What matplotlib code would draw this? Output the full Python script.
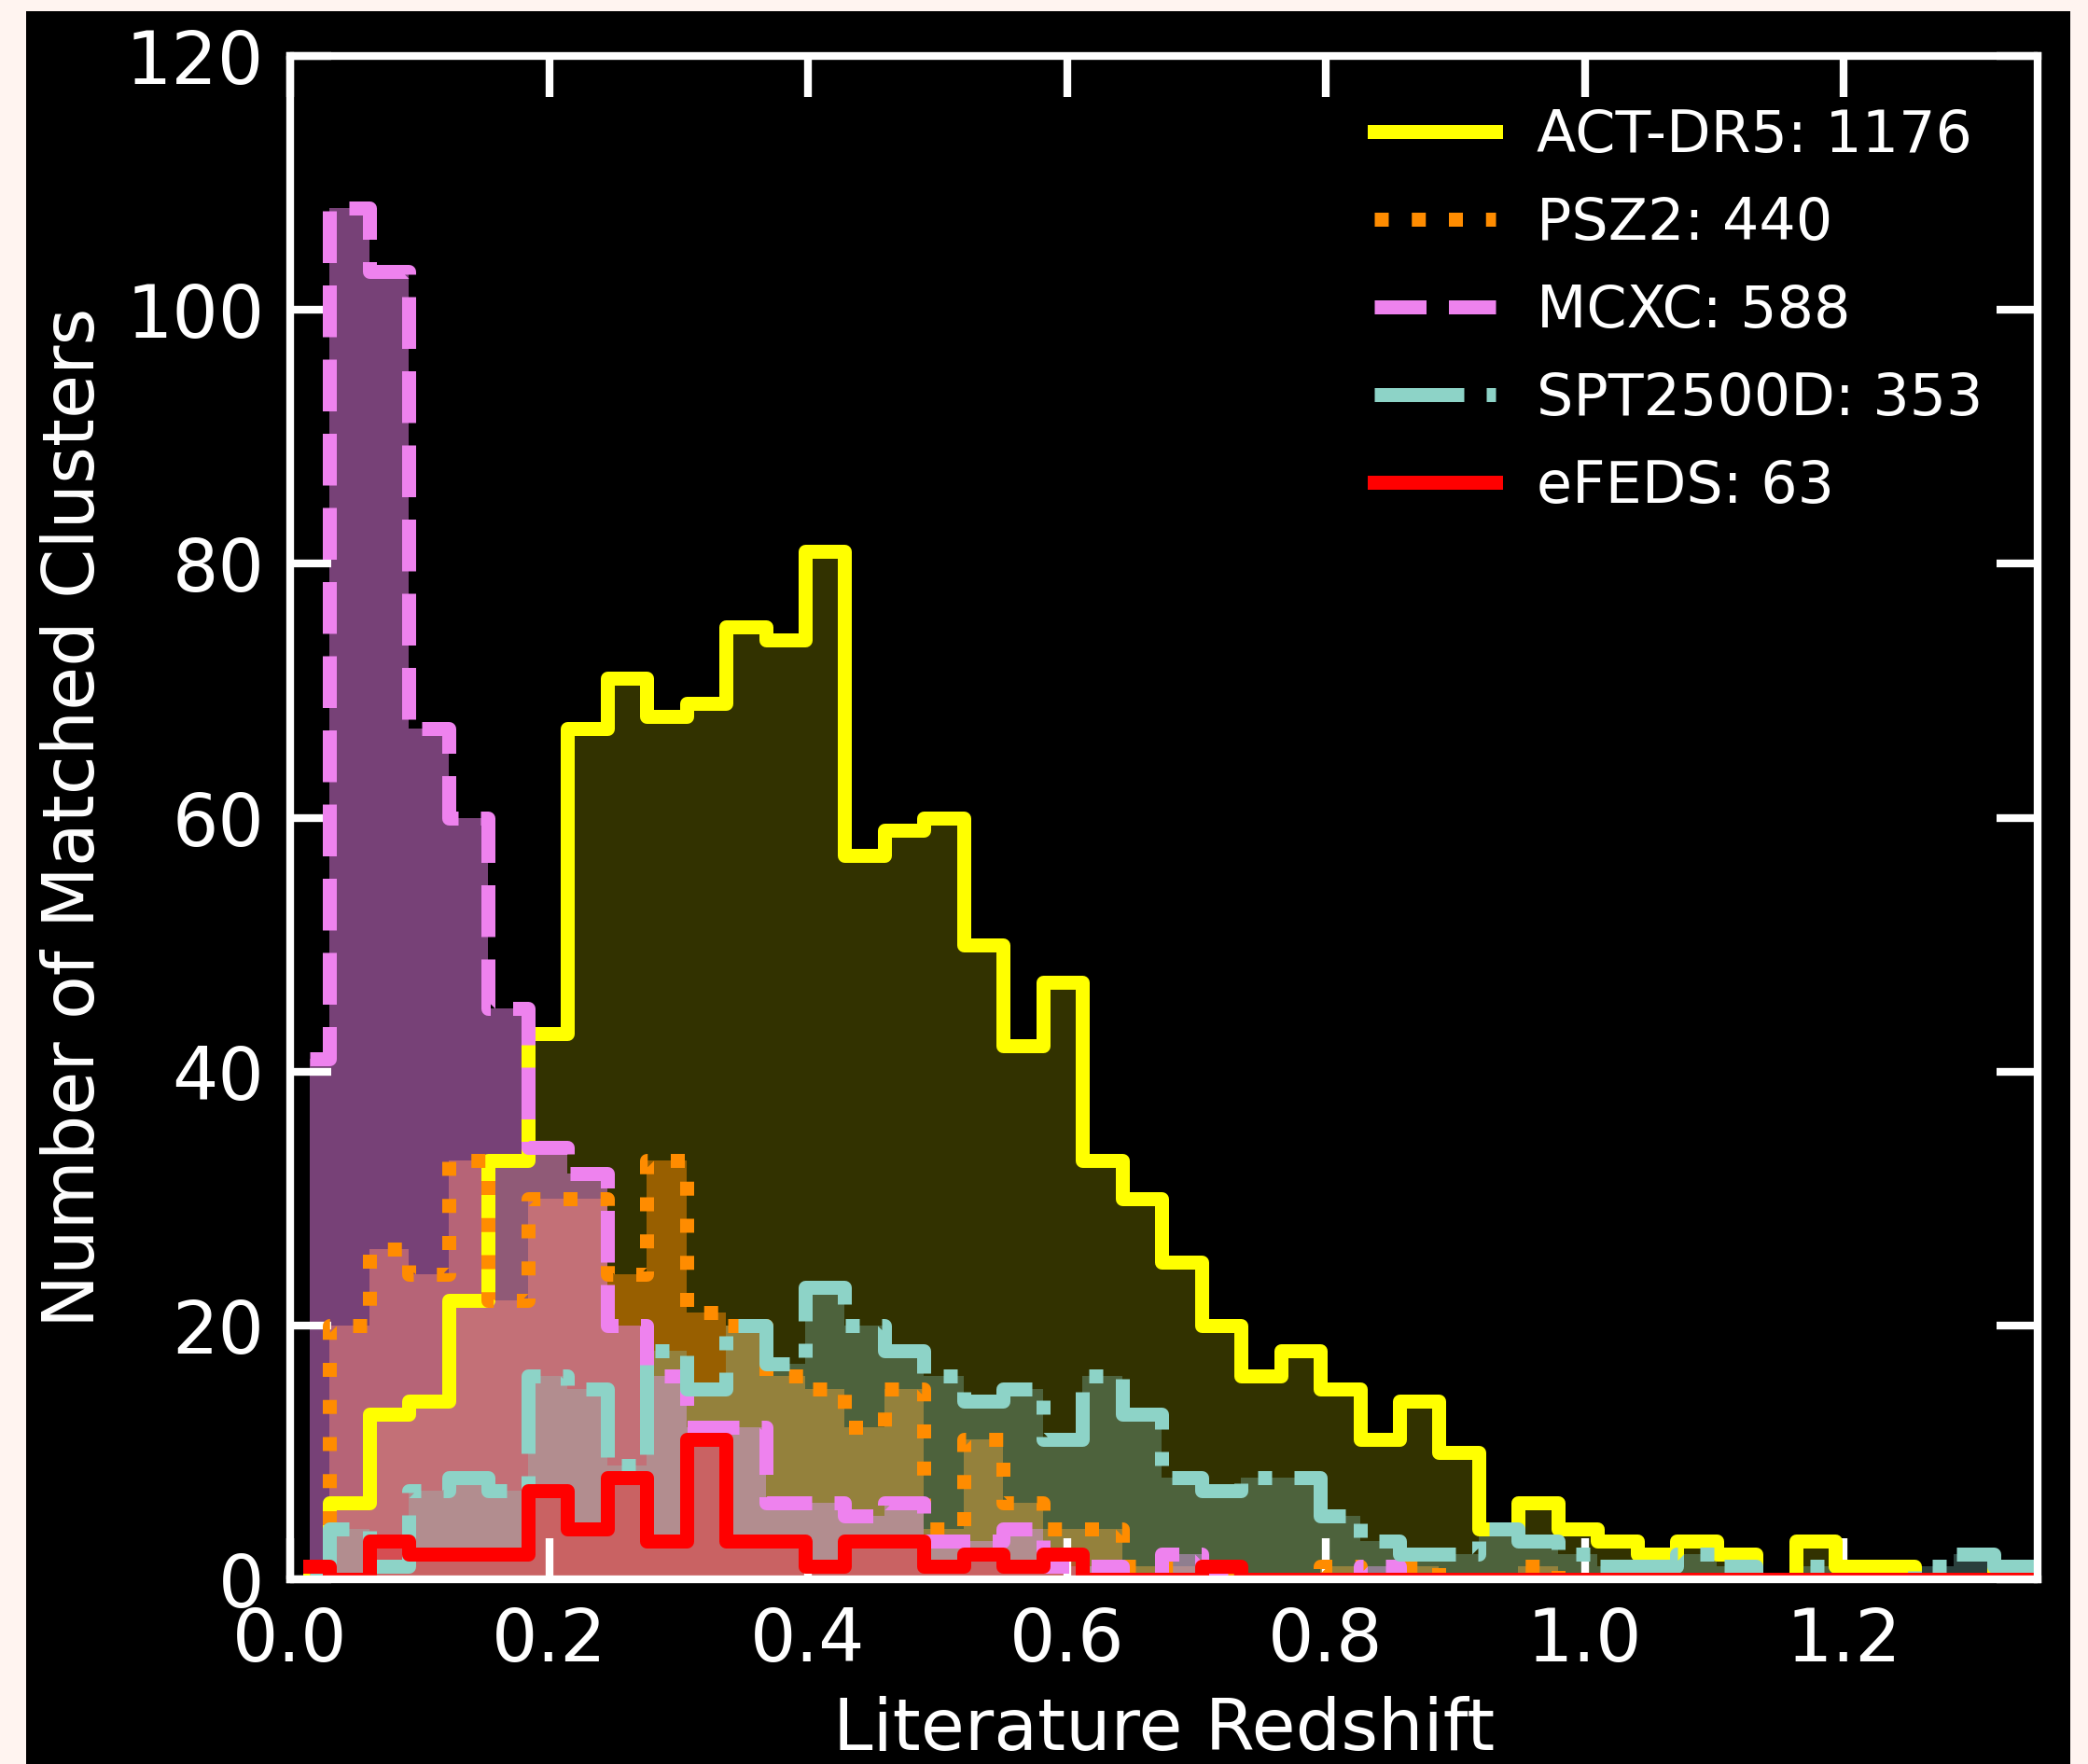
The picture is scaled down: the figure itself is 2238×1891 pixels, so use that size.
import numpy as np
import matplotlib
matplotlib.use("Agg")
import matplotlib.pyplot as plt
from matplotlib.patches import Rectangle

# ---------------- data (counts per redshift bin, bin width 0.0306) ----------------
bin_width = 0.0306
n_bins = 45
bin_edges = np.arange(n_bins + 1) * bin_width
bin_centers = bin_edges[:-1] + bin_width / 2

act_dr5 = [0, 6, 13, 14, 22, 33, 43, 67, 71, 68, 69, 75, 74, 81, 57, 59, 60, 50, 42, 47,
           33, 30, 25, 20, 16, 18, 15, 11, 14, 10, 4, 6, 4, 3, 2, 3, 2, 0, 3, 1,
           1, 0, 0, 1, 1]
psz2 = [0, 20, 26, 24, 33, 22, 30, 30, 24, 33, 21, 20, 16, 15, 12, 15, 4, 11, 6, 4,
        4, 1, 1, 0, 0, 0, 1, 0, 1, 0, 0, 1, 0, 0, 0, 0, 0, 0, 0, 0,
        0, 0, 0, 0, 0]
mcxc = [41, 108, 103, 67, 60, 45, 34, 32, 20, 16, 12, 12, 6, 6, 5, 6, 3, 3, 4, 1,
        1, 0, 2, 0, 0, 0, 0, 1, 0, 0, 0, 0, 0, 0, 0, 0, 0, 0, 0, 0,
        0, 0, 0, 0, 0]
spt2500d = [0, 4, 1, 7, 8, 7, 16, 15, 9, 18, 15, 20, 17, 23, 20, 18, 16, 14, 15, 11,
            16, 13, 8, 7, 8, 8, 5, 3, 2, 2, 4, 3, 2, 1, 1, 2, 1, 0, 1, 0,
            0, 1, 2, 1, 1]
efeds = [1, 0, 3, 2, 2, 2, 7, 4, 8, 3, 11, 3, 3, 1, 3, 3, 1, 2, 1, 2,
         0, 0, 0, 1, 0, 0, 0, 0, 0, 0, 0, 0, 0, 0, 0, 0, 0, 0, 0, 0,
         0, 0, 0, 0, 0]

labels = ["ACT-DR5: 1176", "PSZ2: 440", "MCXC: 588", "SPT2500D: 353", "eFEDS: 63"]
x_ticks = [0.0, 0.2, 0.4, 0.6, 0.8, 1.0, 1.2]
y_ticks = [0, 20, 40, 60, 80, 100, 120]

# ---------------- styling ----------------
series = [act_dr5, psz2, mcxc, spt2500d, efeds]
colors = ["#ffff00", "#ff8c00", "#ee82ee", "#8dd3c7", "#ff0000"]
styles = ["-", ":", "--", "-.", "-"]
alphas = [0.2, 0.5, 0.5, 0.3, 0.3]

W, H, DPI = 2238, 1891, 200
fig = plt.figure(figsize=(W / DPI, H / DPI), dpi=DPI)
fig.patch.set_facecolor("#fff4f0")
bg = Rectangle((28 / W, 0), (2219 - 28) / W, 1 - 12 / H,
               transform=fig.transFigure, facecolor="black",
               edgecolor="none", zorder=-10)
fig.add_artist(bg)

ax = fig.add_axes([311 / W, 1 - 1693 / H, (2184 - 311) / W, (1693 - 60) / H])
ax.set_zorder(5)
ax.set_facecolor("black")

for vals, c, a in zip(series, colors, alphas):
    ax.fill_between(bin_centers, vals, step="mid", color=c, alpha=a, lw=0, zorder=1)

handles = []
for vals, c, ls, lab in zip(series, colors, styles, labels):
    ln, = ax.step(bin_centers, vals, where="mid", color=c, lw=5.4, ls=ls,
                  label=lab, zorder=2)
    handles.append(ln)

ax.set_xlim(0, 1.3497)
ax.set_ylim(0, 120)
ax.set_xticks(x_ticks)
ax.set_xticklabels([f"{t:.1f}" for t in x_ticks])
ax.set_yticks(y_ticks)

for sp in ax.spines.values():
    sp.set_color("white")
    sp.set_linewidth(3)
ax.tick_params(which="major", direction="in", top=True, right=True, length=16,
               width=3, colors="white", labelsize=28, pad=10)

ax.set_xlabel("Literature Redshift", color="white", fontsize=27.5, labelpad=7.5)
ax.set_ylabel("Number of Matched Clusters", color="white", fontsize=27.5, labelpad=6.5)

leg = ax.legend(handles=handles, loc="upper right", bbox_to_anchor=(0.9686, 0.9659),
                frameon=False, fontsize=22.3, handlelength=2.1, handletextpad=0.7,
                labelspacing=0.55, borderaxespad=0, borderpad=0,
                labelcolor="white")

fig.savefig("out.png", dpi=DPI, facecolor=fig.get_facecolor())
